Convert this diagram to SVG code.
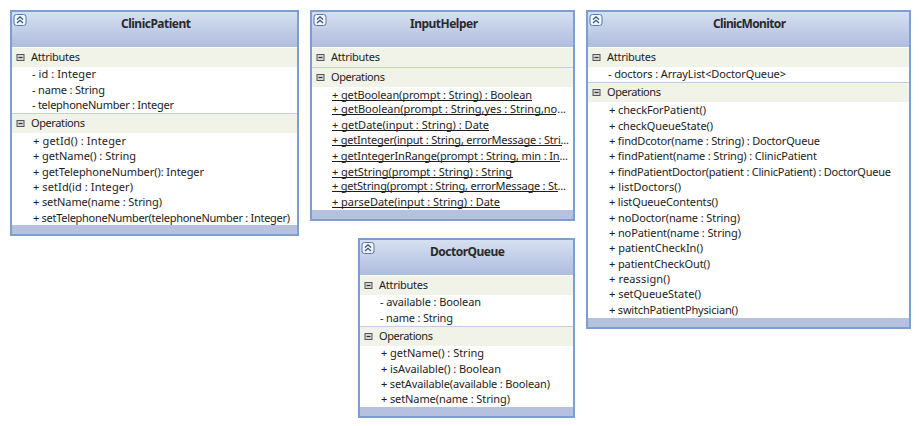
<svg xmlns="http://www.w3.org/2000/svg" width="919" height="426" viewBox="0 0 919 426">
<style>
text{font-family:"Noto Sans","Liberation Sans",sans-serif;font-size:11px;fill:#1c1c1c}
.t{font-family:"Noto Sans","Liberation Sans",sans-serif;font-weight:700;font-size:12px;fill:#2a2a2a}
.box{fill:#fff;stroke:#7d9fd0;stroke-width:2}
.band{fill:#f1f3e9}
.foot{fill:#b5c1df}
.sep{stroke:#c3cee6;stroke-width:1;fill:none}
.ul{stroke:#1c1c1c;stroke-width:1;fill:none}
.col{fill:#f2f5fb;stroke:#5a78a8;stroke-width:1}
.chev{fill:none;stroke:#2f4f80;stroke-width:1.2}
.min{fill:#d8d8d8;stroke:#555;stroke-width:1}
.minl{stroke:#333;stroke-width:1.2;fill:none}
</style>
<defs>
<linearGradient id="h" x1="0" y1="0" x2="0" y2="1"><stop offset="0" stop-color="#d6e0f2"/><stop offset="1" stop-color="#afbcdd"/></linearGradient>
<g id="collapse"><rect class="col" x="0" y="0.5" width="12" height="11" rx="2.5"/><path class="chev" d="M3 5.500L6 2.800L9 5.500M3 9L6 6.300L9 9"/></g>
<g id="minus"><rect class="min" x="1" y="1.500" width="7" height="6"/><path class="minl" d="M2.500 4.500H6.500"/></g>
</defs>
<g id="connectors"/>
<g id="ClinicPatient">
<rect class="box" x="11" y="11" width="287" height="224"/>
<rect x="12" y="12" width="285" height="35" fill="url(#h)"/>
<rect class="band" x="12" y="48" width="285" height="19"/>
<rect class="band" x="12" y="114" width="285" height="19"/>
<path class="sep" d="M12 113.500H297"/>
<rect class="foot" x="12" y="225" width="285" height="9"/>
<use href="#collapse" x="14" y="14"/><use href="#minus" x="16" y="53"/><use href="#minus" x="16" y="119"/>
<text class="t" x="121" y="28" textLength="70">ClinicPatient</text>
<text x="31" y="61" textLength="49">Attributes</text>
<text x="32" y="78" textLength="64">- id : Integer</text>
<text x="32" y="94" textLength="73">- name : String</text>
<text x="32" y="109" textLength="142">- telephoneNumber : Integer</text>
<text x="31" y="127" textLength="54">Operations</text>
<text x="33" y="145" textLength="93">+ getId() : Integer</text>
<text x="33" y="160" textLength="103">+ getName() : String</text>
<text x="33" y="176" textLength="171">+ getTelephoneNumber(): Integer</text>
<text x="33" y="191" textLength="100">+ setId(id : Integer)</text>
<text x="33" y="206" textLength="129">+ setName(name : String)</text>
<text x="33" y="222" textLength="257">+ setTelephoneNumber(telephoneNumber : Integer)</text>
</g>
<g id="InputHelper">
<rect class="box" x="311" y="11" width="263" height="209"/>
<rect x="312" y="12" width="261" height="35" fill="url(#h)"/>
<rect class="band" x="312" y="48" width="261" height="19"/>
<rect class="band" x="312" y="68" width="261" height="19"/>
<path class="sep" d="M312 67.500H573"/>
<rect class="foot" x="312" y="210" width="261" height="9"/>
<use href="#collapse" x="314" y="14"/><use href="#minus" x="316" y="53"/><use href="#minus" x="316" y="73"/>
<text class="t" x="410" y="28" textLength="68">InputHelper</text>
<text x="331" y="61" textLength="49">Attributes</text>
<text x="331" y="81" textLength="54">Operations</text>
<text x="332" y="99" textLength="200">+ getBoolean(prompt : String) : Boolean</text>
<text x="332" y="113" textLength="234">+ getBoolean(prompt : String,yes : String,no...</text>
<text x="332" y="129" textLength="157">+ getDate(input : String) : Date</text>
<text x="332" y="144" textLength="237">+ getInteger(input : String, errorMessage : Stri...</text>
<text x="332" y="160" textLength="236">+ getIntegerInRange(prompt : String, min : In...</text>
<text x="332" y="176" textLength="180">+ getString(prompt : String) : String</text>
<text x="332" y="190" textLength="234">+ getString(prompt : String, errorMessage : St...</text>
<text x="332" y="206" textLength="168">+ parseDate(input : String) : Date</text>
<path class="ul" d="M332 100.500H532M332 114.500H556M332 130.500H489M332 145.500H562M332 161.500H560M332 177.500H513M332 191.500H558M332 207.500H500"/>
</g>
<g id="DoctorQueue">
<rect class="box" x="359" y="239" width="215" height="178"/>
<rect x="360" y="240" width="213" height="35" fill="url(#h)"/>
<rect class="band" x="360" y="276" width="213" height="19"/>
<rect class="band" x="360" y="327" width="213" height="19"/>
<path class="sep" d="M360 326.500H573"/>
<rect class="foot" x="360" y="407" width="213" height="9"/>
<use href="#collapse" x="362" y="242"/><use href="#minus" x="364" y="281"/><use href="#minus" x="364" y="332"/>
<text class="t" x="430" y="256" textLength="75">DoctorQueue</text>
<text x="379" y="289" textLength="49">Attributes</text>
<text x="380" y="306" textLength="101">- available : Boolean</text>
<text x="380" y="322" textLength="73">- name : String</text>
<text x="379" y="340" textLength="54">Operations</text>
<text x="381" y="357" textLength="103">+ getName() : String</text>
<text x="381" y="373" textLength="120">+ isAvailable() : Boolean</text>
<text x="381" y="388" textLength="169">+ setAvailable(available : Boolean)</text>
<text x="381" y="403" textLength="129">+ setName(name : String)</text>
</g>
<g id="ClinicMonitor">
<rect class="box" x="587" y="11" width="323" height="317"/>
<rect x="588" y="12" width="321" height="35" fill="url(#h)"/>
<rect class="band" x="588" y="48" width="321" height="19"/>
<rect class="band" x="588" y="83" width="321" height="19"/>
<path class="sep" d="M588 82.500H909"/>
<rect class="foot" x="588" y="318" width="321" height="9"/>
<use href="#collapse" x="590" y="14"/><use href="#minus" x="592" y="53"/><use href="#minus" x="592" y="88"/>
<text class="t" x="713" y="28" textLength="73">ClinicMonitor</text>
<text x="607" y="61" textLength="49">Attributes</text>
<text x="608" y="78" textLength="178">- doctors : ArrayList&lt;DoctorQueue&gt;</text>
<text x="607" y="96" textLength="54">Operations</text>
<text x="609" y="114" textLength="97">+ checkForPatient()</text>
<text x="609" y="130" textLength="104">+ checkQueueState()</text>
<text x="609" y="145" textLength="211">+ findDcotor(name : String) : DoctorQueue</text>
<text x="609" y="160" textLength="208">+ findPatient(name : String) : ClinicPatient</text>
<text x="609" y="176" textLength="282">+ findPatientDoctor(patient : ClinicPatient) : DoctorQueue</text>
<text x="609" y="191" textLength="72">+ listDoctors()</text>
<text x="609" y="206" textLength="109">+ listQueueContents()</text>
<text x="609" y="222" textLength="131">+ noDoctor(name : String)</text>
<text x="609" y="237" textLength="132">+ noPatient(name : String)</text>
<text x="609" y="252" textLength="94">+ patientCheckIn()</text>
<text x="609" y="268" textLength="101">+ patientCheckOut()</text>
<text x="609" y="283" textLength="61">+ reassign()</text>
<text x="609" y="298" textLength="92">+ setQueueState()</text>
<text x="609" y="314" textLength="129">+ switchPatientPhysician()</text>
</g>
</svg>
